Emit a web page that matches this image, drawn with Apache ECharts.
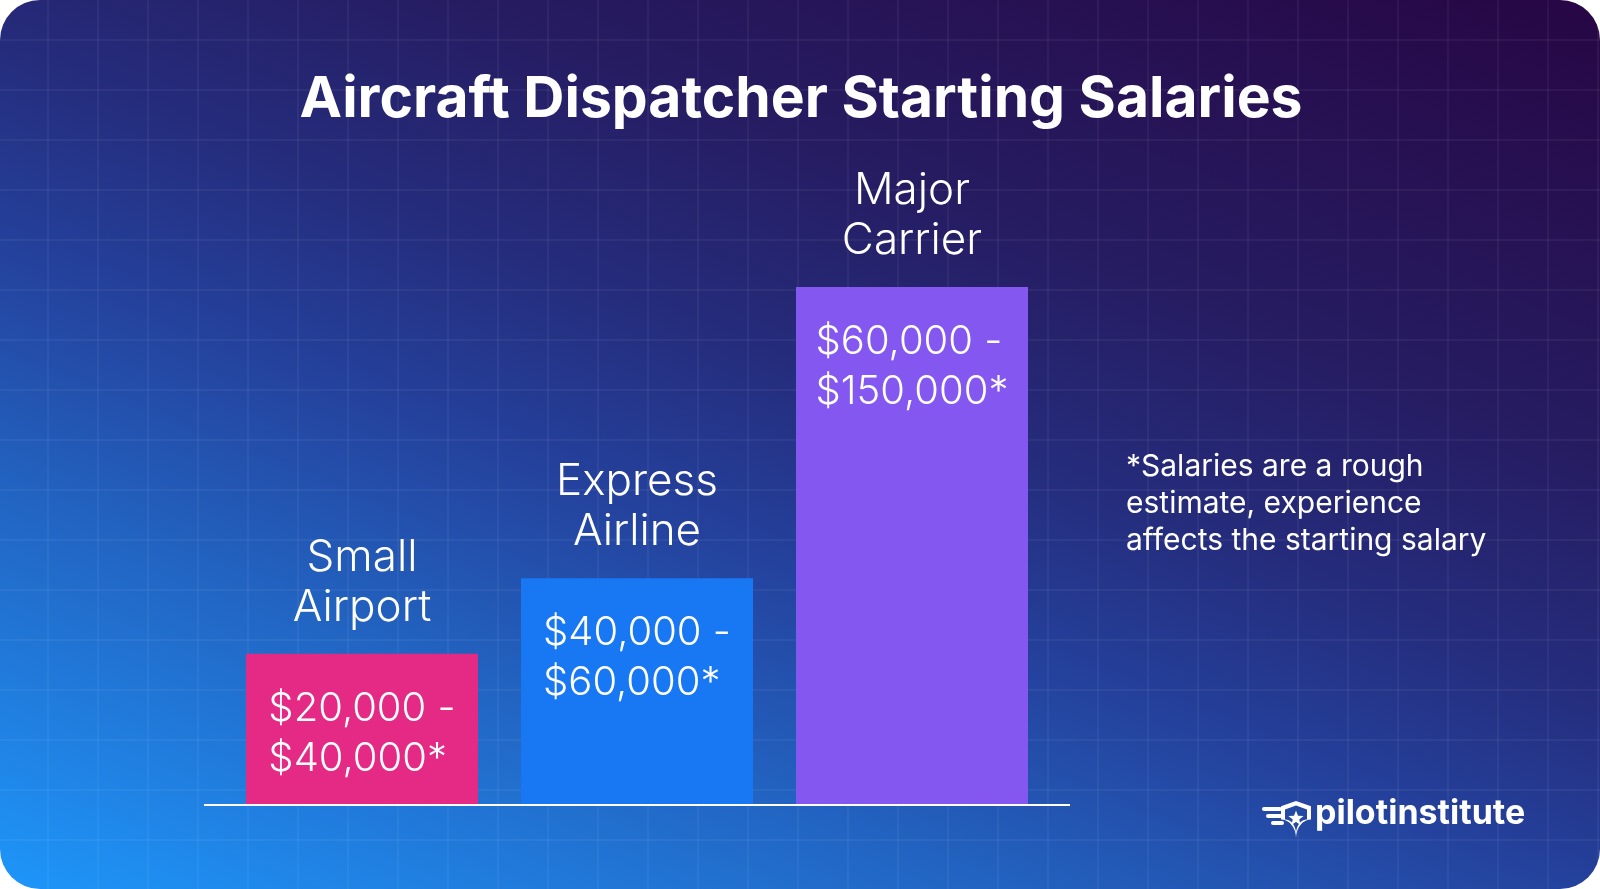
<!DOCTYPE html>
<html><head><meta charset="utf-8">
<script src="https://cdn.jsdelivr.net/npm/echarts@6/dist/echarts.min.js"></script>
<style>html,body{margin:0;padding:0;background:#fff}#c{width:1600px;height:889px}</style>
</head><body><div id="c"></div>
<script>
// ---- data ----
const categories = ['Small\nAirport', 'Express\nAirline', 'Major\nCarrier'];
const barHeights = [40, 60, 137];          // visual bar heights (thousand $ scale)
const salaryRanges = [
  ['$20,000 -', '$40,000*'],
  ['$40,000 -', '$60,000*'],
  ['$60,000 -', '$150,000*']
];
const barColors = ['#E42A85', '#1877F2', '#8457F0'];
const titleText = 'Aircraft Dispatcher Starting Salaries';
const noteLines = ['*Salaries are a rough', 'estimate, experience', 'affects the starting salary'];
const brandText = 'pilotinstitute';

// ---- decoration ----
const W = 1600, H = 889;
const graphics = [];
graphics.push({
  type: 'rect', z: -10, silent: true,
  shape: { x: 0, y: 0, width: W, height: H, r: 40 },
  style: {
    fill: new echarts.graphic.LinearGradient(0, 889, 531, -429, [
      { offset: 0, color: '#1E96FA' },
      { offset: 0.25, color: '#2266C4' },
      { offset: 0.42, color: '#24419C' },
      { offset: 0.55, color: '#252C7C' },
      { offset: 0.7, color: '#261C62' },
      { offset: 1, color: '#270644' }
    ], true)
  }
});
const gridStroke = 'rgba(255,255,255,0.065)';
for (let x = 48; x < W; x += 50) {
  graphics.push({ type: 'line', z: -9, silent: true, shape: { x1: x, y1: 0, x2: x, y2: H }, style: { stroke: gridStroke, lineWidth: 1.5 } });
}
for (let y = 40; y < H; y += 50) {
  graphics.push({ type: 'line', z: -9, silent: true, shape: { x1: 0, y1: y, x2: W, y2: y }, style: { stroke: gridStroke, lineWidth: 1.5 } });
}
// title
graphics.push({
  type: 'text', z: 10, silent: true,
  style: { x: 801, y: 100, text: titleText, fill: '#fff', font: '700 57px Inter', textAlign: 'center', textVerticalAlign: 'middle' }
});
// baseline
graphics.push({
  type: 'line', z: 10, silent: true,
  shape: { x1: 204, y1: 805, x2: 1070, y2: 805 },
  style: { stroke: '#ffffff', lineWidth: 2 }
});
// footnote
graphics.push({
  type: 'text', z: 10, silent: true,
  style: { x: 1126, y: 448, text: noteLines.join('\n'), fill: '#fff', font: '400 30px Inter', lineHeight: 37, textAlign: 'left', textVerticalAlign: 'top' }
});
// brand
graphics.push({
  type: 'text', z: 10, silent: true,
  style: { x: 1315, y: 814, text: brandText, fill: '#fff', font: '700 34px Inter', textAlign: 'left', textVerticalAlign: 'middle' }
});
// logo icon: wings + shield + star
[[1262, 807, 20], [1266, 814, 17], [1271, 821, 13]].forEach(function (w) {
  graphics.push({ type: 'rect', z: 10, silent: true, shape: { x: w[0], y: w[1], width: w[2], height: 4, r: 2 }, style: { fill: '#fff' } });
});
function shieldPoints(x0, y0, w, h) {
  const pts = [[x0 + w / 2, y0], [x0 + w, y0 + h * 0.14], [x0 + w, y0 + h * 0.5]];
  for (let i = 1; i <= 8; i++) {
    const t = i / 8;
    pts.push([x0 + w - (w / 2) * Math.sin(t * Math.PI / 2), y0 + h * 0.5 + h * 0.5 * (1 - Math.cos(t * Math.PI / 2))]);
  }
  for (let i = 7; i >= 0; i--) {
    const t = i / 8;
    pts.push([x0 + (w / 2) * Math.sin(t * Math.PI / 2), y0 + h * 0.5 + h * 0.5 * (1 - Math.cos(t * Math.PI / 2))]);
  }
  pts.push([x0, y0 + h * 0.14]);
  return pts;
}
graphics.push({ type: 'polygon', z: 10, silent: true, shape: { points: shieldPoints(1281, 801, 30, 37) }, style: { fill: '#fff' } });
graphics.push({ type: 'polygon', z: 11, silent: true, shape: { points: shieldPoints(1285, 805.5, 22, 28) }, style: { fill: '#2449A2' } });
(function () {
  const cx = 1296, cy = 818.5, ro = 8, ri = 3.4;
  const pts = [];
  for (let i = 0; i < 10; i++) {
    const a = -Math.PI / 2 + i * Math.PI / 5;
    const r = i % 2 === 0 ? ro : ri;
    pts.push([cx + r * Math.cos(a), cy + r * Math.sin(a)]);
  }
  graphics.push({ type: 'polygon', z: 12, silent: true, shape: { points: pts }, style: { fill: '#fff' } });
})();

// ---- chart ----
const chart = echarts.init(document.getElementById('c'), null, { renderer: 'canvas' });
chart.setOption({
  backgroundColor: 'transparent',
  animation: false,
  graphic: graphics,
  grid: { left: 224.5, right: 550.5, top: 200, bottom: 84 },
  xAxis: {
    type: 'category', data: categories,
    axisLine: { show: false }, axisTick: { show: false }, axisLabel: { show: false }, splitLine: { show: false }
  },
  yAxis: { type: 'value', min: 0, max: 160, show: false, splitLine: { show: false } },
  series: [
    {
      type: 'bar', barWidth: 232,
      data: barHeights.map(function (v, i) { return { value: v, itemStyle: { color: barColors[i] } }; }),
      label: {
        show: true, position: 'insideTop', distance: 30,
        align: 'center',
        formatter: function (p) { return salaryRanges[p.dataIndex].map(function (s) { return '{a|' + s + '}'; }).join('\n'); },
        rich: { a: { align: 'left', color: '#fff', fontFamily: 'Inter', fontWeight: 300, fontSize: 40, lineHeight: 50 } }
      }
    },
    {
      type: 'bar', barWidth: 232, barGap: '-100%', silent: true,
      data: barHeights,
      itemStyle: { color: 'rgba(0,0,0,0)' },
      label: {
        show: true, position: 'top', distance: 21,
        formatter: function (p) { return categories[p.dataIndex]; },
        color: '#fff', fontFamily: 'Inter', fontWeight: 300, fontSize: 44, lineHeight: 50, align: 'center'
      }
    }
  ]
});
</script>
</body></html>
